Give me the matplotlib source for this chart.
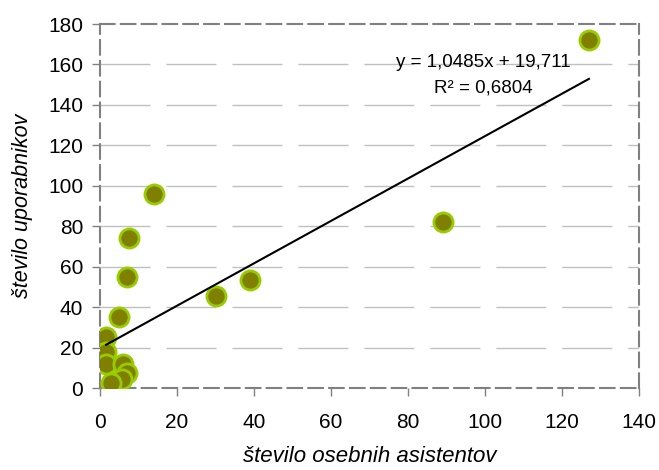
import matplotlib
matplotlib.use("Agg")
import matplotlib.pyplot as plt
import numpy as np

# number of personal assistants vs number of users
asistenti = [127, 89, 39, 30, 14, 7.5, 7, 5, 1.6, 1.6, 1.6, 6, 7, 5.6, 2.8]
uporabniki = [172, 82, 53.5, 45.5, 96, 74, 55, 35, 25, 18, 12, 12, 7.5, 4.5, 2.5]

# linear trendline as reported on the chart
trend_slope = 1.0485
trend_intercept = 19.711
eq_label = "y = 1,0485x + 19,711"
r2_label = "R² = 0,6804"

x_ticks = [0, 20, 40, 60, 80, 100, 120, 140]
y_ticks = [0, 20, 40, 60, 80, 100, 120, 140, 160, 180]

plt.rcParams['font.family'] = ['Liberation Sans', 'DejaVu Sans']

fig = plt.figure(figsize=(6.59, 4.70), dpi=100)
ax = fig.add_axes([100 / 659, 1 - 388 / 470, 539 / 659, 364 / 470])

ax.set_xlim(0, 140)
ax.set_ylim(0, 180)
ax.set_xticks(x_ticks)
ax.set_yticks(y_ticks)

for y in y_ticks[1:-1]:
    ax.axhline(y, color='#c0c0c0', lw=1, linestyle=(0, (36, 11.5)), zorder=1)

ax.scatter(asistenti, uporabniki, s=190, c='#808000', edgecolors='#99cc00',
           linewidths=2, zorder=3)

xs = np.array([min(asistenti), max(asistenti)])
ax.plot(xs, trend_slope * xs + trend_intercept, color='black', lw=1.5, zorder=4)

ax.text(99.5, 161, eq_label, ha='center', va='center', fontsize=13.5, zorder=5)
ax.text(99.5, 148.5, r2_label, ha='center', va='center', fontsize=13.5, zorder=5)

for side in ['left', 'right', 'top', 'bottom']:
    ax.spines[side].set_color('#808080')
    ax.spines[side].set_linewidth(1.5)
    ax.spines[side].set_linestyle((0, (7, 3)))

ax.tick_params(axis='both', colors='#808080', length=6, width=1, labelcolor='black',
               labelsize=15)
ax.tick_params(axis='x', pad=12)
ax.tick_params(axis='y', pad=6)

ax.set_xlabel('število osebnih asistentov', fontsize=16, style='italic')
ax.set_ylabel('število uporabnikov', fontsize=15.5, style='italic')
ax.xaxis.set_label_coords(0.5, -0.158)
ax.yaxis.set_label_coords(-0.125, 0.5)

fig.savefig('out.png', dpi=100)
